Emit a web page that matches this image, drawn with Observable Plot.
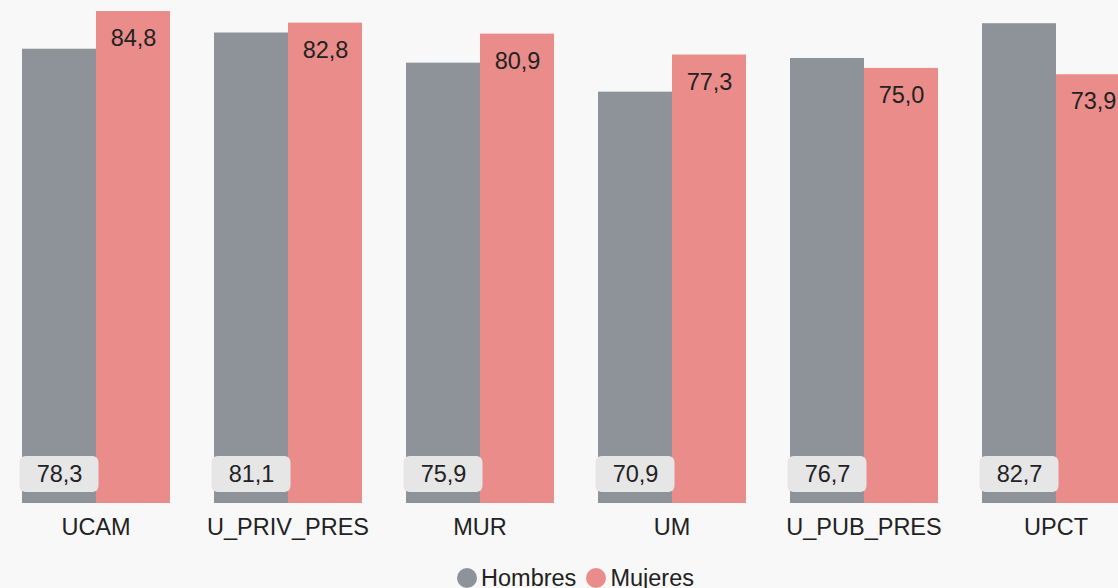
<!DOCTYPE html>
<html><head><meta charset="utf-8">
<script src="https://cdn.jsdelivr.net/npm/d3@7"></script>
<script src="https://cdn.jsdelivr.net/npm/@observablehq/plot@0.6"></script>
<style>
html,body{margin:0;padding:0;background:#f8f8f8;overflow:hidden;width:1118px;height:588px}
#chart{width:1151px;font-family:"Liberation Sans",Arial,sans-serif;color:#222}
.legend{display:flex;justify-content:center;align-items:center;font-size:23.5px;line-height:24px;margin-top:11px}
.item{display:flex;align-items:center;margin:0 5px}
.sw{width:20px;height:20px;border-radius:50%;margin-right:4px}
</style>
</head><body>
<div id="chart"></div>
<script>
const categories = ["UCAM","U_PRIV_PRES","MUR","UM","U_PUB_PRES","UPCT"];
const series = ["Hombres","Mujeres"];
const hombres = [78.3, 81.1, 75.9, 70.9, 76.7, 82.7];
const mujeres = [84.8, 82.8, 80.9, 77.3, 75.0, 73.9];
const colors = ["#8e9399","#ea8c8a"];

const data = categories.flatMap((c,i)=>[
  {cat:c, serie:"Hombres", value:hombres[i]},
  {cat:c, serie:"Mujeres", value:mujeres[i]}
]);
const fmt = v => v.toFixed(1).replace(".", ",");
const hData = data.filter(d=>d.serie==="Hombres");
const mData = data.filter(d=>d.serie==="Mujeres");

const chart = Plot.plot({
  width:1151, height:555,
  marginTop:0, marginBottom:52, marginLeft:0, marginRight:0,
  style:{background:"transparent", fontSize:"23.5px", fontFamily:'"Liberation Sans",Arial,sans-serif', color:"#222", overflow:"visible"},
  fx:{domain:categories, paddingInner:0.224, paddingOuter:0.102, label:null, tickSize:0, tickPadding:15, axis:"bottom"},
  x:{domain:series, axis:null, padding:0},
  y:{domain:[0,86.7], axis:null},
  color:{domain:series, range:colors},
  marks:[
    Plot.barY(data,{fx:"cat", x:"serie", y:"value", fill:"serie"}),
    Plot.barY(hData,{fx:"cat", x:"serie", y1:0, y2:0, insetTop:-47, insetBottom:11, insetLeft:-2.5, insetRight:-2.5, rx:6, fill:"#e6e6e6"}),
    Plot.text(hData,{fx:"cat", x:"serie", y:0, dy:-29, text:d=>fmt(d.value), fill:"#222", fontSize:23.5}),
    Plot.text(mData,{fx:"cat", x:"serie", y:"value", dy:27, text:d=>fmt(d.value), fill:"#222", fontSize:23.5})
  ]
});
const root = document.getElementById("chart");
root.appendChild(chart);
const legend = document.createElement("div");
legend.className = "legend";
series.forEach((s,i)=>{
  const it = document.createElement("div"); it.className="item";
  const sw = document.createElement("span"); sw.className="sw"; sw.style.background = colors[i];
  const t = document.createElement("span"); t.textContent = s;
  it.appendChild(sw); it.appendChild(t); legend.appendChild(it);
});
root.appendChild(legend);
</script>
</body></html>
